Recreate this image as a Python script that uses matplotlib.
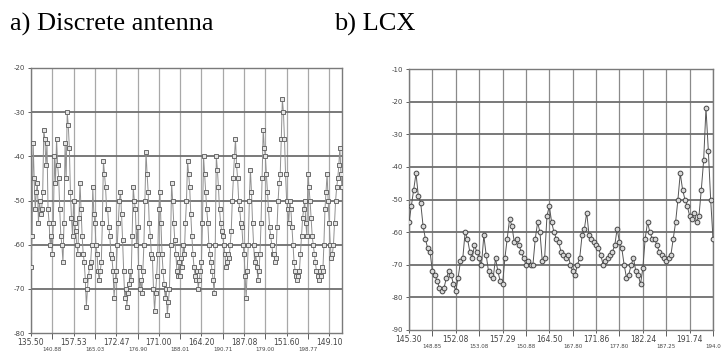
"""
Received signal level along the track: discrete antennas versus a leaky
coaxial cable (LCX). Two panels side by side, scanned-style grey plots.
"""

import matplotlib.pyplot as plt
import numpy as np

# Level in dB, 20 samples per grid division
discrete_levels = [
    -65, -58, -37, -45, -52, -48, -46, -55, -50, -53, -52, -48, -34, -36, -42, -37, -52, -55, -60, -58,
    -62, -55, -40, -46, -36, -42, -45, -52, -58, -60, -64, -55, -37, -45, -30, -33, -38, -48, -54, -58,
    -50, -55, -57, -60, -62, -54, -46, -52, -58, -62, -64, -68, -74, -70, -67, -65, -64, -60, -47, -53,
    -55, -60, -62, -66, -68, -66, -64, -55, -41, -44, -47, -52, -52, -56, -58, -62, -63, -66, -72, -68,
    -66, -60, -55, -50, -48, -53, -59, -66, -72, -70, -74, -71, -69, -66, -68, -58, -47, -50, -52, -60,
    -56, -65, -70, -68, -71, -66, -60, -50, -39, -44, -48, -55, -58, -62, -63, -70, -75, -71, -67, -62,
    -52, -48, -55, -62, -66, -69, -72, -70, -76, -73, -70, -60, -46, -50, -55, -59, -62, -66, -67, -64,
    -67, -63, -65, -60, -62, -55, -50, -41, -44, -47, -53, -58, -62, -65, -67, -68, -66, -70, -68, -66,
    -64, -55, -40, -44, -48, -52, -55, -60, -62, -64, -66, -68, -71, -60, -40, -43, -47, -52, -55, -57,
    -58, -60, -62, -65, -64, -62, -63, -60, -57, -50, -45, -40, -36, -42, -45, -50, -52, -55, -56, -60,
    -62, -67, -72, -66, -60, -50, -43, -48, -55, -60, -64, -62, -65, -68, -66, -62, -55, -45, -34, -38,
    -40, -44, -48, -52, -56, -58, -60, -62, -62, -64, -63, -56, -50, -46, -44, -36, -27, -30, -36, -44,
    -50, -52, -55, -50, -52, -56, -60, -64, -66, -67, -68, -67, -66, -62, -58, -54, -52, -50, -55, -58,
    -44, -47, -50, -54, -58, -60, -62, -64, -66, -67, -68, -66, -67, -65, -66, -60, -52, -48, -44, -50,
    -55, -60, -63, -62, -60, -55, -50, -47, -45, -42, -38, -44, -47,
]

# Level in dB, 10 samples per grid division
lcx_levels = [
    -57, -52, -47, -42, -49, -51, -58, -62, -65, -66,
    -72, -73, -75, -77, -78, -77, -74, -72, -73, -76,
    -78, -74, -69, -68, -60, -62, -66, -68, -64, -66,
    -68, -70, -61, -67, -72, -73, -74, -68, -72, -75,
    -76, -68, -62, -56, -58, -63, -62, -64, -66, -68,
    -70, -69, -70, -70, -62, -57, -60, -69, -68, -55,
    -52, -57, -60, -62, -63, -66, -67, -68, -67, -70,
    -72, -73, -70, -68, -61, -59, -54, -61, -62, -63,
    -64, -65, -67, -70, -69, -68, -67, -66, -64, -59,
    -63, -65, -70, -74, -73, -70, -68, -72, -73, -76,
    -71, -62, -57, -60, -62, -62, -64, -66, -67, -68,
    -69, -68, -67, -62, -57, -50, -42, -47, -50, -52,
    -55, -56, -54, -57, -55, -47, -38, -22, -35, -50,
    -62,
]

discrete_yticks = [-80, -70, -60, -50, -40, -30, -20]
lcx_yticks = [-90, -80, -70, -60, -50, -40, -30, -20, -10]

# Tick labels at every grid line, alternating between two rows
discrete_xlabels = ["135.50", "140.88", "157.53", "165.03", "172.47",
                    "176.90", "171.00", "188.01", "164.20", "190.71",
                    "187.08", "179.00", "151.60", "198.77", "149.10"]
lcx_xlabels = ["145.30", "148.85", "152.08", "153.08", "157.29",
               "150.88", "164.50", "167.80", "171.86", "177.80",
               "182.24", "187.25", "191.74", "194.0"]


def draw_panel(ax, levels, step, yticks, xlabels, marker, ms, line_color,
               edge_color, face_color, vgrid_color):
    """Plot one panel with its grid and staggered tick labels."""
    x = np.arange(len(levels))
    ax.plot(x, levels, color=line_color, lw=0.7, marker=marker, ms=ms,
            mfc=face_color, mec=edge_color, mew=0.7, zorder=3)

    ax.set_xlim(0, len(levels) - 1)
    ax.set_ylim(yticks[0], yticks[-1])

    # grid lines every `step` samples, labels on two rows
    pos = np.arange(len(xlabels)) * step
    ax.set_xticks(pos[::2])
    ax.set_xticklabels(xlabels[::2])
    ax.set_xticks(pos[1::2], minor=True)
    ax.set_xticklabels(xlabels[1::2], minor=True)
    ax.set_yticks(yticks)
    ax.set_yticklabels([str(v) for v in yticks])

    ax.tick_params(axis='x', which='major', labelsize=5.5, pad=1.5,
                   length=2, width=0.6, colors='#444444')
    ax.tick_params(axis='x', which='minor', labelsize=4, pad=6,
                   length=4, width=0.6, colors='#444444')
    ax.tick_params(axis='y', labelsize=5, pad=2, length=2, width=0.6,
                   colors='#444444')

    for v in pos:
        ax.axvline(v, color=vgrid_color, lw=0.9, zorder=1)
    for v in yticks[1:-1]:
        ax.axhline(v, color='#6e6e6e', lw=1.3, zorder=1)

    for spine in ax.spines.values():
        spine.set_color('#7a7a7a')
        spine.set_linewidth(1.0)


fig = plt.figure(figsize=(7.21, 3.52), dpi=100)

ax_a = fig.add_axes([31 / 721, 19 / 352, 311 / 721, 265 / 352])
draw_panel(ax_a, discrete_levels, 20, discrete_yticks, discrete_xlabels,
           's', 3.0, '#909090', '#6a6a6a', '#e4e4e4', '#a8a8a8')

ax_b = fig.add_axes([409 / 721, 22 / 352, 304 / 721, 261 / 352])
draw_panel(ax_b, lcx_levels, 10, lcx_yticks, lcx_xlabels,
           'o', 3.4, '#555555', '#444444', '#d8d8d8', '#8a8a8a')

serif = ['Liberation Serif', 'DejaVu Serif']
fig.text(10 / 721, 1 - 31 / 352, 'a) Discrete antenna', family=serif,
         fontsize=19, va='baseline', ha='left')
fig.text(334 / 721, 1 - 31 / 352, 'b) LCX', family=serif,
         fontsize=19, va='baseline', ha='left')

fig.savefig('out.png', dpi=100)
